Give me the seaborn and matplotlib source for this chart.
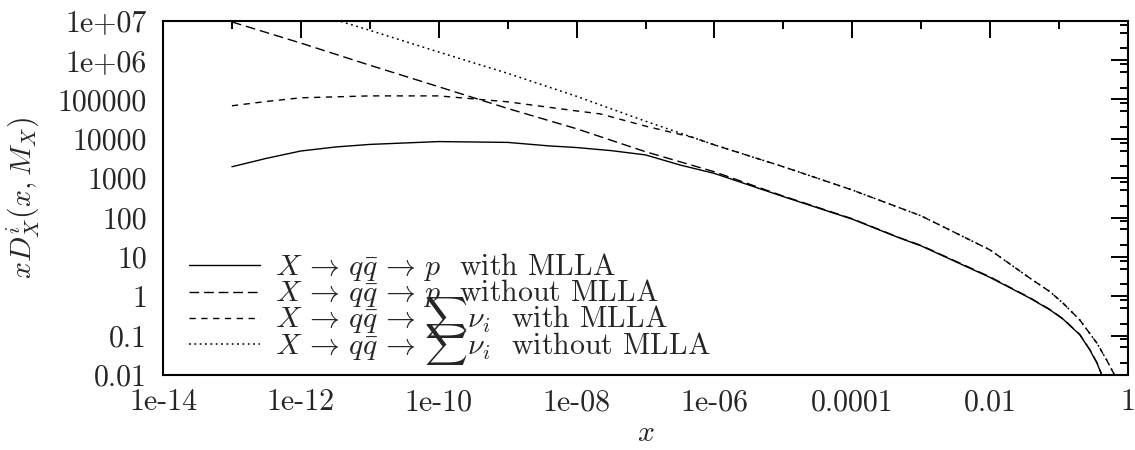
import numpy as np
import pandas as pd
import matplotlib
matplotlib.use("Agg")
import matplotlib.pyplot as plt
from matplotlib.legend_handler import HandlerLine2D
import seaborn as sns

# x D_X^i(x, M_X) for the proton and neutrino channels, with and without MLLA
x_p_mlla = [1e-13, 3.2e-13, 1e-12, 3.2e-12, 1e-11, 1e-10, 1e-9, 4e-9, 1e-8,
            3.2e-8, 1e-7, 3.2e-7, 1e-6, 1e-5, 1e-4, 4.9e-4, 1e-3, 1e-2, 0.038,
            0.074, 0.115, 0.2, 0.28, 0.355, 0.407, 0.43]
y_p_mlla = [1950, 3200, 4900, 6200, 7200, 8500, 8100, 6600, 6000,
            5000, 3900, 2150, 1320, 340, 91, 30, 19, 3.0, 0.89,
            0.45, 0.26, 0.105, 0.043, 0.020, 0.011, 0.008]

x_p_dlla = [1e-13, 1e-12, 1e-11, 1e-10, 1e-9, 1e-8, 1e-7, 1e-6, 1e-5,
            1e-4, 4.9e-4, 1e-3, 1e-2, 0.038, 0.074, 0.115, 0.2, 0.28, 0.355,
            0.407, 0.43]
y_p_dlla = [9.3e6, 2.7e6, 7.4e5, 2.1e5, 5.9e4, 1.8e4, 4700, 1450, 350,
            93, 30.5, 19.5, 3.1, 0.91, 0.46, 0.265, 0.107, 0.044, 0.0205,
            0.0112, 0.008]

x_nu_mlla = [1e-13, 3.2e-13, 1e-12, 1e-11, 1e-10, 1e-9, 1e-8, 2.2e-8, 1e-7,
             5e-7, 1e-6, 1e-5, 1e-4, 1e-3, 1e-2, 0.038, 0.074, 0.115, 0.2,
             0.355, 0.49, 0.62, 0.67]
y_nu_mlla = [6.9e4, 8.9e4, 1.1e5, 1.23e5, 1.23e5, 8.7e4, 5.1e4, 4.3e4, 2.1e4,
             1.07e4, 7000, 1950, 500, 110, 15, 2.86, 1.3, 0.66, 0.25,
             0.064, 0.024, 0.011, 0.008]

x_nu_dlla = [3.2e-12, 1e-11, 1e-10, 1e-9, 1e-8, 1e-7, 1e-6, 1e-5, 1e-4,
             1e-3, 1e-2, 0.038, 0.074, 0.115, 0.2, 0.355, 0.49, 0.62, 0.67]
y_nu_dlla = [1.05e7, 5.7e6, 1.6e6, 4.6e5, 1.2e5, 2.8e4, 7000, 1950, 500,
             110, 15, 2.86, 1.3, 0.66, 0.25, 0.064, 0.024, 0.011, 0.008]

series_labels = [
    r"$X\,\rightarrow\,q\bar{q}\,\rightarrow\,p$  with MLLA",
    r"$X\,\rightarrow\,q\bar{q}\,\rightarrow\,p$  without MLLA",
    r"$X\,\rightarrow\,q\bar{q}\,\rightarrow\,\sum\nu_i$  with MLLA",
    r"$X\,\rightarrow\,q\bar{q}\,\rightarrow\,\sum\nu_i$  without MLLA",
]

x_tick_exp = [-14, -12, -10, -8, -6, -4, -2, 0]
x_tick_labels = ["1e-14", "1e-12", "1e-10", "1e-08", "1e-06", "0.0001", "0.01", "1"]
y_tick_exp = [-2, -1, 0, 1, 2, 3, 4, 5, 6, 7]
y_tick_labels = ["0.01", "0.1", "1", "10", "100", "1000", "10000", "100000",
                 "1e+06", "1e+07"]

FS = 21.5


class LevelLineHandler(HandlerLine2D):
    """Legend line drawn at a fixed height above the text baseline."""

    def create_artists(self, legend, orig_handle, xdescent, ydescent,
                       width, height, fontsize, trans):
        arts = super().create_artists(legend, orig_handle, xdescent, ydescent,
                                      width, height, fontsize, trans)
        for a in arts:
            xd = np.asarray(a.get_xdata(), dtype=float)
            a.set_ydata(np.full_like(xd, 0.33 * fontsize))
        return arts


sns.set_style("white")
plt.rcParams.update({
    "font.family": ["cmr10", "DejaVu Serif"],
    "mathtext.fontset": "cm",
    "axes.unicode_minus": False,
    "axes.linewidth": 1.5,
    "axes.edgecolor": "black",
    "font.size": FS,
})

fig = plt.figure(figsize=(11.35, 4.5), dpi=100)
ax = fig.add_axes([163 / 1135, 1 - 375 / 450, 965 / 1135, 354.3 / 450])

styles = [
    ("-", 1.0),
    ((0, (7.0, 3.5)), 1.0),
    ((0, (4.5, 4.0)), 1.0),
    ((0, (1.2, 2.3)), 1.1),
]
data = [(x_p_mlla, y_p_mlla), (x_p_dlla, y_p_dlla),
        (x_nu_mlla, y_nu_mlla), (x_nu_dlla, y_nu_dlla)]

for (xs, ys), (ls, lw), lab in zip(data, styles, series_labels):
    df = pd.DataFrame({"x": xs, "y": ys})
    sns.lineplot(data=df, x="x", y="y", ax=ax, color="black", linewidth=lw,
                 linestyle=ls, label=lab, estimator=None, sort=False)

ax.set_xscale("log")
ax.set_yscale("log")
ax.set_xlim(1e-14, 1)
ax.set_ylim(1e-2, 1e7)

ax.set_xticks([10.0 ** e for e in x_tick_exp])
ax.set_xticklabels(x_tick_labels)
ax.set_xticks([10.0 ** e for e in range(-13, 0, 2)], minor=True)
ax.set_xticklabels([], minor=True)
ax.set_yticks([10.0 ** e for e in y_tick_exp])
ax.set_yticklabels(y_tick_labels)
ax.set_yticks([m * 10.0 ** k for k in range(-2, 7) for m in (2, 5, 8)], minor=True)
ax.set_yticklabels([], minor=True)

ax.tick_params(which="both", direction="in", top=True, right=True,
               color="black", labelsize=FS, width=1.4)
ax.tick_params(which="major", length=12.2)
ax.tick_params(which="minor", length=5.8)
ax.tick_params(axis="y", which="major", pad=11.5)
ax.tick_params(axis="x", which="major", pad=10)

ax.set_xlabel(r"$x$", fontsize=FS, labelpad=2)
ax.set_ylabel(r"$xD_X^i(x,M_X)$", fontsize=FS, labelpad=12)

for side in ax.spines.values():
    side.set_visible(True)
    side.set_linewidth(1.5)
    side.set_color("black")

# tall handle boxes give every row the same height, so rows sit evenly
hh = 2.6
fs_px = FS * 100 / 72
desc_px = 0.35 * fs_px * (hh - 0.7)
box_px = hh * fs_px - desc_px
leg = ax.legend(loc="lower left",
                bbox_to_anchor=(26 / 965, (375 - 354 - desc_px) / 354.3),
                frameon=False, handlelength=2.37, handletextpad=0.5,
                handleheight=hh, labelspacing=(26.3 - box_px) / fs_px,
                borderpad=0, borderaxespad=0, fontsize=FS,
                handler_map={matplotlib.lines.Line2D: LevelLineHandler()})

fig.savefig("out.png", dpi=100)
